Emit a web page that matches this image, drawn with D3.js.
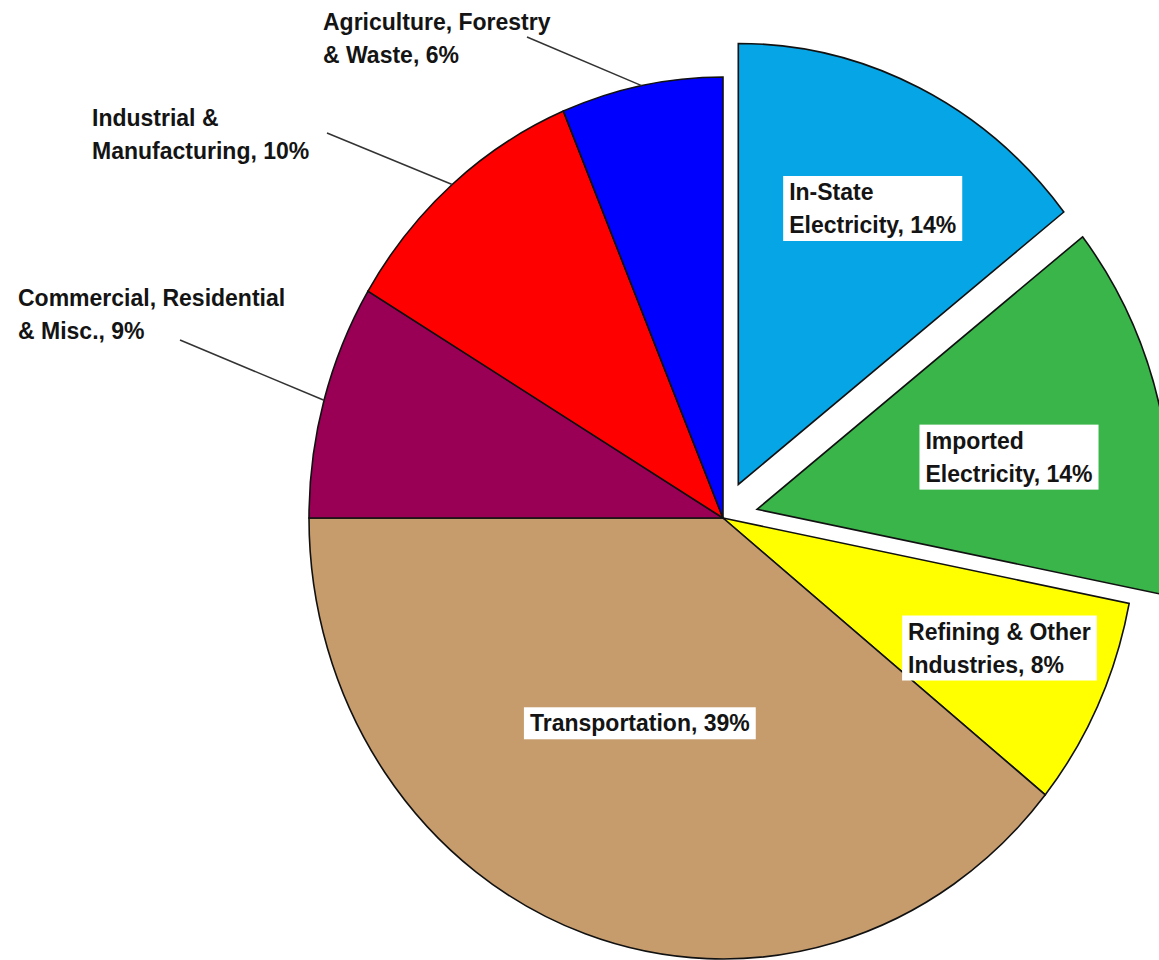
<!DOCTYPE html>
<html>
<head>
<meta charset="utf-8">
<script src="https://cdn.jsdelivr.net/npm/d3@7"></script>
<style>
  html, body { margin: 0; padding: 0; background: #fff; }
  svg { display: block; }
  text { font-family: "Liberation Sans", Arial, sans-serif; font-weight: bold; font-size: 23px; fill: #141414; }
</style>
</head>
<body>
<svg id="chart" width="1159" height="960"></svg>
<script>
// sectors, clockwise from 12 o'clock
const sectors = ['In-State Electricity', 'Imported Electricity', 'Refining & Other Industries', 'Transportation',
                 'Commercial, Residential & Misc.', 'Industrial & Manufacturing', 'Agriculture, Forestry & Waste'];
const shares = [14.4, 13.7, 7.7, 39.2, 8.6, 10.1, 6.3];
const labelLines = [
  ['In-State', 'Electricity, '],
  ['Imported', 'Electricity, '],
  ['Refining & Other', 'Industries, '],
  ['Transportation, '],
  ['Commercial, Residential', '& Misc., '],
  ['Industrial &', 'Manufacturing, '],
  ['Agriculture, Forestry', '& Waste, ']
];
const colors = ['#06a5e5', '#3ab54a', '#ffff00', '#c69c6d', '#990055', '#ff0000', '#0000ff'];
const exploded = ['In-State Electricity', 'Imported Electricity'];

// label placement (inside: radius fraction + angle nudge in degrees; outside: text spot + leader start)
const insideLabels = {
  'In-State Electricity': { k: 0.705, turn: 1.5 },
  'Imported Electricity': { k: 0.62, turn: 2.5 },
  'Refining & Other Industries': { k: 0.73, turn: -1.2 },
  'Transportation': { k: 0.507, turn: 3.9 }
};
const outsideLabels = {
  'Commercial, Residential & Misc.': { x: 18, y: 306, from: [180, 340] },
  'Industrial & Manufacturing': { x: 92, y: 126, from: [327, 133] },
  'Agriculture, Forestry & Waste': { x: 323, y: 30, from: [527, 37] }
};

const cx = 723, cy = 518, r = 414, ky = 441 / 414;
const explodeDist = 35;
const lineH = 33;

const svg = d3.select('#chart');

const data = sectors.map((name, i) => ({ name, share: shares[i], color: colors[i], lines: labelLines[i] }));
const pie = d3.pie().sort(null).value(d => d.share);
const arcs = pie(data);
const arc = d3.arc().innerRadius(0).outerRadius(r);

arcs.forEach(a => {
  const mid = (a.startAngle + a.endAngle) / 2;
  const d = exploded.includes(a.data.name) ? explodeDist : 0;
  a.mid = mid;
  a.off = [Math.sin(mid) * d, -Math.cos(mid) * d];
});

// pie is drawn a bit taller than wide, as in the original picture
const pieG = svg.append('g').attr('transform', `translate(${cx},${cy}) scale(1,${ky})`);

pieG.selectAll('path')
  .data(arcs)
  .enter()
  .append('path')
  .attr('d', arc)
  .attr('transform', d => `translate(${d.off[0]},${d.off[1]})`)
  .style('fill', d => d.data.color)
  .style('stroke', '#111')
  .style('stroke-width', '1.6px')
  .style('stroke-linejoin', 'miter')
  .attr('vector-effect', 'non-scaling-stroke');

function toScreen(angle, rad, off) {
  return [cx + off[0] + Math.sin(angle) * rad, cy + (off[1] - Math.cos(angle) * rad) * ky];
}

const pct = d => Math.round(d.data.share) + '%';

// labels inside slices, on white boxes
arcs.filter(d => insideLabels[d.data.name]).forEach(d => {
  const cfg = insideLabels[d.data.name];
  const [px, py] = toScreen(d.mid + cfg.turn * Math.PI / 180, r * cfg.k, d.off);
  const g = svg.append('g');
  const rect = g.append('rect').style('fill', '#fff');
  const t = g.append('text');
  d.data.lines.forEach((ln, i) => {
    t.append('tspan')
      .attr('x', 0)
      .attr('y', i * lineH)
      .text(i === d.data.lines.length - 1 ? ln + pct(d) : ln);
  });
  const bb = t.node().getBBox();
  const padX = 6, padY = 3;
  rect.attr('x', bb.x - padX).attr('y', bb.y - padY)
    .attr('width', bb.width + padX * 2).attr('height', bb.height + padY * 2);
  g.attr('transform', `translate(${px - bb.x - bb.width / 2},${py - bb.y - bb.height / 2})`);
});

// labels outside with leader lines
arcs.filter(d => outsideLabels[d.data.name]).forEach(d => {
  const cfg = outsideLabels[d.data.name];
  const end = toScreen(d.mid, r, d.off);
  svg.append('line')
    .attr('x1', cfg.from[0]).attr('y1', cfg.from[1])
    .attr('x2', end[0]).attr('y2', end[1])
    .style('stroke', '#333')
    .style('stroke-width', '1.5px');
  const t = svg.append('text');
  d.data.lines.forEach((ln, i) => {
    t.append('tspan')
      .attr('x', cfg.x)
      .attr('y', cfg.y + i * lineH)
      .text(i === d.data.lines.length - 1 ? ln + pct(d) : ln);
  });
});
</script>
</body>
</html>
